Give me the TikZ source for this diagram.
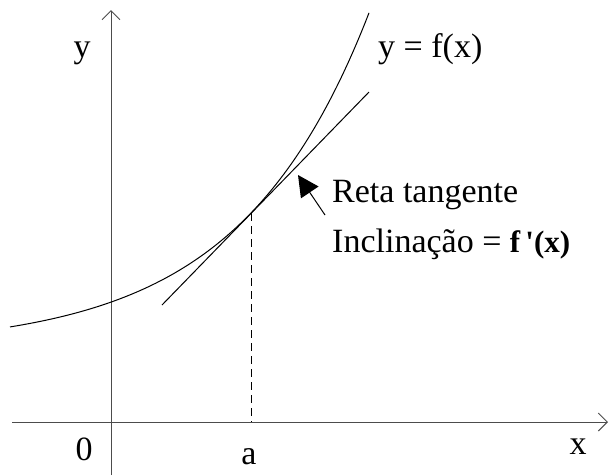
\documentclass[tikz,border=0pt]{standalone}
\usepackage{fontspec}
\setmainfont{Liberation Serif}
\newfontfamily\primefont{Liberation Serif}
\usetikzlibrary{arrows.meta}

\begin{document}
\begin{tikzpicture}[x=1pt,y=-1pt,
lbl/.style={inner sep=0pt,anchor=base,font=\fontsize{34}{40}\selectfont},
axis/.style={draw=black!70,line width=1pt,-{Straight Barb[length=9pt,width=18pt,line width=1pt]}},
ln/.style={line width=1pt},
ptr/.style={-{Triangle[length=21pt,width=21pt]},line width=1pt}]
\useasboundingbox (0,0) rectangle (610,475);
% axes
\coordinate (ybot) at (111,475);\coordinate (ytop) at (111,10);
\coordinate (xleft) at (12,422);\coordinate (xright) at (608,422);
\draw[axis](ybot)--(ytop);
\draw[axis](xleft)--(xright);
% curve, tangent and foot of a
\draw[ln] plot[domain=10:369,samples=90] (\x,{348-135*exp(0.0077*(\x-251))});
\coordinate (P) at (251,213);\coordinate (foot) at (251,422);
\coordinate (t1) at (162,305);\coordinate (t2) at (369,92);
\draw[ln](t1)--(t2);
\draw[ln,dash pattern=on 8pt off 5pt](P)--(foot);
% labels
\node[lbl](ylab) at (82,57){y};\node[lbl](zero) at (84,460){0};
\node[lbl](alab) at (249,464){a};\node[lbl](xlab) at (578,454){x};
\node[lbl,anchor=base west](flab) at (378,57){y = f(x)};
\node[lbl,anchor=base west](reta) at (332,202){Reta tangente};
\node[lbl,anchor=base west](incl) at (332,252){Inclinação = {\fontsize{31}{36}\selectfont\bfseries f\,{\primefont'}(x)}};
\coordinate (tail) at (325,215);\coordinate (tip) at (298,175);
\draw[ptr](tail)--(tip);
\end{tikzpicture}
\end{document}
